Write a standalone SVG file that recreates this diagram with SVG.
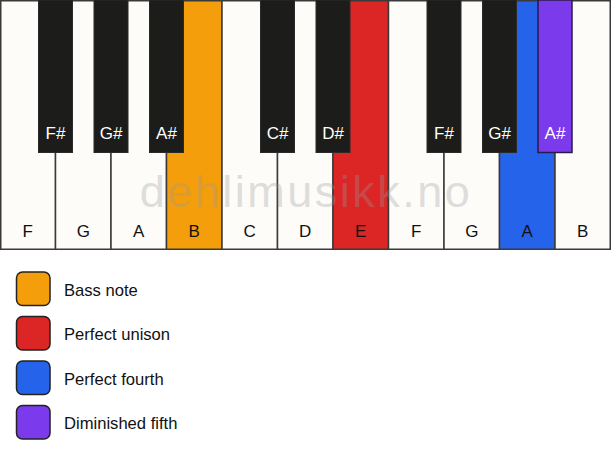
<svg xmlns="http://www.w3.org/2000/svg" width="611" height="461" viewBox="0 0 611 461">
<style>
.w{fill:#fdfcf9;stroke:#3a3a3a;stroke-width:1.5}
.b{fill:#1c1c1a;stroke:#2a2a2a;stroke-width:1}
.wl{font-family:"Liberation Sans",Arial,sans-serif;font-size:17px;fill:#111;text-anchor:middle}
.bl{font-family:"Liberation Sans",Arial,sans-serif;font-size:17px;fill:#fff;text-anchor:middle}
.sw{stroke:#222;stroke-width:1.5}
.lt{font-family:"Liberation Sans",Arial,sans-serif;font-size:16.6px;fill:#111}
.wm{font-family:"Liberation Sans",Arial,sans-serif;font-size:45px;fill:#999;opacity:0.3;text-anchor:middle;letter-spacing:2.5px}
</style>
<rect width="611" height="461" fill="#ffffff"/>
<g id="white-keys">
<g id="key-F1"><rect class="w" x="0.75" y="0.75" width="54.75" height="248.5"/><text class="wl" x="27.75" y="236.5">F</text></g>
<g id="key-G1"><rect class="w" x="55.5" y="0.75" width="55.5" height="248.5"/><text class="wl" x="83.25" y="236.5">G</text></g>
<g id="key-A1"><rect class="w" x="111" y="0.75" width="55.5" height="248.5"/><text class="wl" x="138.75" y="236.5">A</text></g>
<g id="key-B1"><rect class="w" x="166.5" y="0.75" width="55.5" height="248.5" style="fill:#f59e0b"/><text class="wl" x="194.25" y="236.5">B</text></g>
<g id="key-C"><rect class="w" x="222" y="0.75" width="55.5" height="248.5"/><text class="wl" x="249.75" y="236.5">C</text></g>
<g id="key-D"><rect class="w" x="277.5" y="0.75" width="55.5" height="248.5"/><text class="wl" x="305.25" y="236.5">D</text></g>
<g id="key-E"><rect class="w" x="333" y="0.75" width="55.5" height="248.5" style="fill:#dc2626"/><text class="wl" x="360.75" y="236.5">E</text></g>
<g id="key-F2"><rect class="w" x="388.5" y="0.75" width="55.5" height="248.5"/><text class="wl" x="416.25" y="236.5">F</text></g>
<g id="key-G2"><rect class="w" x="444" y="0.75" width="55.5" height="248.5"/><text class="wl" x="471.75" y="236.5">G</text></g>
<g id="key-A2"><rect class="w" x="499.5" y="0.75" width="55.5" height="248.5" style="fill:#2563eb"/><text class="wl" x="527.25" y="236.5">A</text></g>
<g id="key-B2"><rect class="w" x="555" y="0.75" width="55.25" height="248.5"/><text class="wl" x="582.75" y="236.5">B</text></g>
</g>
<text class="wm" x="306" y="206.5">dehlimusikk.no</text>
<g id="black-keys">
<g id="key-Fs1"><rect class="b" x="38.5" y="0" width="34" height="152.5"/><text class="bl" x="55.5" y="139">F#</text></g>
<g id="key-Gs1"><rect class="b" x="94" y="0" width="34" height="152.5"/><text class="bl" x="111" y="139">G#</text></g>
<g id="key-As1"><rect class="b" x="149.5" y="0" width="34" height="152.5"/><text class="bl" x="166.5" y="139">A#</text></g>
<g id="key-Cs"><rect class="b" x="260.5" y="0" width="34" height="152.5"/><text class="bl" x="277.5" y="139">C#</text></g>
<g id="key-Ds"><rect class="b" x="316" y="0" width="34" height="152.5"/><text class="bl" x="333" y="139">D#</text></g>
<g id="key-Fs2"><rect class="b" x="427" y="0" width="34" height="152.5"/><text class="bl" x="444" y="139">F#</text></g>
<g id="key-Gs2"><rect class="b" x="482.5" y="0" width="34" height="152.5"/><text class="bl" x="499.5" y="139">G#</text></g>
<g id="key-As2"><rect class="b" x="538" y="0" width="34" height="152.5" style="fill:#7c3aed;stroke:#2a1a4a;stroke-width:1.5"/><text class="bl" x="555" y="139">A#</text></g>
</g>
<g id="legend">
<g id="legend-bass"><rect class="sw" x="16.5" y="272" width="33.5" height="33.5" rx="6" fill="#f59e0b"/><text class="lt" x="64" y="295.5">Bass note</text></g>
<g id="legend-unison"><rect class="sw" x="16.5" y="316.5" width="33.5" height="33.5" rx="6" fill="#dc2626"/><text class="lt" x="64" y="340">Perfect unison</text></g>
<g id="legend-fourth"><rect class="sw" x="16.5" y="361" width="33.5" height="33.5" rx="6" fill="#2563eb"/><text class="lt" x="64" y="384.5">Perfect fourth</text></g>
<g id="legend-dim5"><rect class="sw" x="16.5" y="405.5" width="33.5" height="33.5" rx="6" fill="#7c3aed"/><text class="lt" x="64" y="429">Diminished fifth</text></g>
</g>
</svg>
